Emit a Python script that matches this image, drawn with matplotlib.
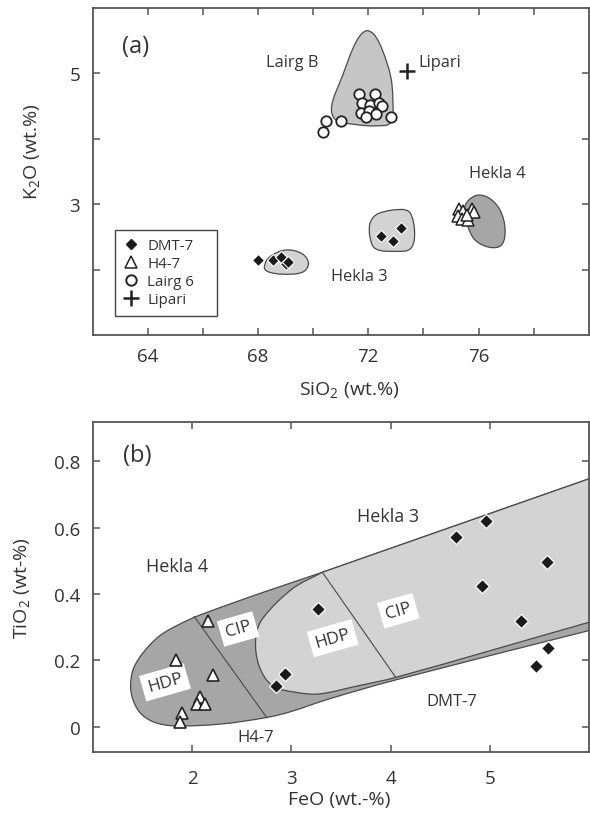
import numpy as np
import matplotlib
matplotlib.use("Agg")
import matplotlib.pyplot as plt
from matplotlib.path import Path
from matplotlib.patches import PathPatch
from matplotlib.lines import Line2D

plt.rcParams['font.family'] = ['Open Sans', 'DejaVu Sans']
plt.rcParams['mathtext.fontset'] = 'custom'
plt.rcParams['mathtext.rm'] = 'Open Sans'
plt.rcParams['mathtext.it'] = 'Open Sans:italic'
plt.rcParams['mathtext.bf'] = 'Open Sans:bold'

# ---------------- Panel (a) data: SiO2 vs K2O ----------------
dmt7_sio2 = [67.99, 68.53, 68.83, 69.01, 69.10, 72.47, 72.90, 73.17]
dmt7_k2o = [2.14, 2.15, 2.19, 2.09, 2.11, 2.51, 2.44, 2.64]

h47_sio2 = [75.30, 75.42, 75.25, 75.39, 75.61, 75.75, 75.84, 75.57]
h47_k2o = [2.93, 2.89, 2.82, 2.78, 2.76, 2.93, 2.88, 2.83]

lairg6_sio2 = [71.66, 72.26, 71.76, 72.08, 72.38, 72.50, 71.72, 72.02,
               72.28, 71.90, 72.81, 71.00, 70.48, 70.37]
lairg6_k2o = [4.68, 4.68, 4.55, 4.52, 4.55, 4.50, 4.39, 4.42,
              4.38, 4.33, 4.34, 4.27, 4.27, 4.10]

lipari_sio2 = [73.41]
lipari_k2o = [5.04]

# field outlines (a)
lairgB_x = [71.90, 71.54, 71.06, 70.67, 70.82, 71.54, 72.26, 72.81, 72.89, 72.81, 72.50, 72.20]
lairgB_y = [5.65, 5.47, 4.96, 4.50, 4.29, 4.22, 4.20, 4.25, 4.60, 4.96, 5.37, 5.60]

hekla3a_small_x = [68.23, 68.41, 69.01, 69.61, 69.83, 69.61, 68.89, 68.35]
hekla3a_small_y = [2.04, 2.19, 2.30, 2.24, 2.09, 1.96, 1.93, 1.97]

hekla3a_big_x = [72.08, 72.38, 73.23, 73.53, 73.68, 73.53, 72.99, 72.26, 72.06]
hekla3a_big_y = [2.73, 2.86, 2.92, 2.86, 2.55, 2.32, 2.28, 2.32, 2.50]

hekla4a_x = [75.88, 76.36, 76.78, 76.96, 76.84, 76.42, 75.88, 75.60, 75.50]
hekla4a_y = [3.13, 3.10, 2.91, 2.62, 2.38, 2.34, 2.45, 2.68, 2.96]

# ---------------- Panel (b) data: FeO vs TiO2 ----------------
dmt7_feo = [4.96, 4.657, 5.575, 4.92, 5.313, 5.589, 5.464, 3.271, 2.932, 2.841]
dmt7_tio2 = [0.620, 0.572, 0.496, 0.424, 0.319, 0.237, 0.182, 0.355, 0.159, 0.124]

h47_feo = [2.160, 1.835, 2.211, 2.077, 2.043, 2.127, 1.892, 1.875]
h47_tio2 = [0.320, 0.201, 0.156, 0.089, 0.068, 0.068, 0.043, 0.013]

# Hekla 4 field (dark) outline
hekla4b_x = [1.377, 1.404, 1.505, 1.673, 1.875, 2.077, 2.700, 3.312, 6.5, 6.5,
             6.0, 4.06, 3.39, 2.985, 2.750, 2.279, 1.807, 1.605, 1.471, 1.398]
hekla4b_y = [0.124, 0.174, 0.224, 0.275, 0.310, 0.337, 0.404, 0.466, 0.800, 0.328,
             0.290, 0.142, 0.085, 0.045, 0.028, 0.008, 0.003, 0.015, 0.043, 0.084]
hekla4b_straight = [7, 8]
hekla4b_corners = [8, 9]

# Hekla 3 field (light) outline
hekla3b_x = [3.312, 6.5, 6.5, 6.0, 4.052, 3.648, 3.278, 3.043, 2.807, 2.673, 2.639, 2.706, 3.009]
hekla3b_y = [0.466, 0.800, 0.357, 0.315, 0.149, 0.122, 0.099, 0.104, 0.124, 0.184, 0.265, 0.325, 0.416]
hekla3b_straight = [0, 1]
hekla3b_corners = [0, 1, 2]

div_h4_x = [2.020, 2.750]
div_h4_y = [0.332, 0.028]
div_h3_x = [3.312, 4.052]
div_h3_y = [0.466, 0.149]

box_labels = ['HDP', 'CIP', 'HDP', 'CIP']
box_x = [1.724, 2.463, 3.416, 4.078]
box_y = [0.134, 0.295, 0.267, 0.350]

DARK = '#a6a6a6'
LIGHT = '#d3d3d3'
MID = '#c6c6c6'
EDGE = '#4a4a4a'
SPINE = '#555555'
TC = '#333333'


def smooth_path(xs, ys, k=1.0, straight=(), corners=()):
    P = np.column_stack([np.asarray(xs, float), np.asarray(ys, float) * k])
    n = len(P)
    straight = set(straight)
    corners = set(corners)

    def unit(v):
        d = np.hypot(v[0], v[1])
        return v / d if d > 0 else v

    verts = [P[0]]
    codes = [Path.MOVETO]
    for i in range(n):
        a = P[i]
        j = (i + 1) % n
        b = P[j]
        if i in straight:
            verts.append(b)
            codes.append(Path.LINETO)
            continue
        L = np.hypot(*(b - a))
        ta = unit(b - a) if i in corners else unit(P[j] - P[i - 1])
        tb = unit(b - a) if j in corners else unit(P[(j + 1) % n] - P[i])
        c1 = a + ta * L / 3.0
        c2 = b - tb * L / 3.0
        verts.extend([c1, c2, b])
        codes.extend([Path.CURVE4] * 3)
    verts.append(P[0])
    codes.append(Path.CLOSEPOLY)
    V = np.array(verts)
    V[:, 1] /= k
    return Path(V, codes)


def field(ax, xs, ys, color, k, straight=(), corners=(), z=1):
    p = PathPatch(smooth_path(xs, ys, k, straight, corners), facecolor=color,
                  edgecolor=EDGE, lw=0.9, zorder=z)
    ax.add_patch(p)


def style_axes(ax, xpad, ypad):
    for s in ax.spines.values():
        s.set_color(SPINE)
        s.set_linewidth(1.3)
    ax.tick_params(direction='in', length=5, width=1.1, color=SPINE,
                   top=True, right=True, labelsize=13.5, labelcolor=TC)
    ax.tick_params(axis='x', pad=xpad)
    ax.tick_params(axis='y', pad=ypad)


fig = plt.figure(figsize=(5.9, 8.29), dpi=100)

# ---------------- Panel (a) ----------------
axA = fig.add_axes([0.157, 0.5947, 0.841, 0.3943])
axA.set_xlim(62, 80)
axA.set_ylim(1, 6)
kA = 2.35

field(axA, lairgB_x, lairgB_y, MID, kA)
field(axA, hekla3a_small_x, hekla3a_small_y, LIGHT, kA)
field(axA, hekla3a_big_x, hekla3a_big_y, LIGHT, kA)
field(axA, hekla4a_x, hekla4a_y, DARK, kA)

axA.plot(dmt7_sio2, dmt7_k2o, ls='none', marker='D', ms=6.5, mfc='#1a1a1a',
         mec='white', mew=0.8, zorder=4)
axA.plot(h47_sio2, h47_k2o, ls='none', marker='^', ms=8, mfc='white',
         mec='#222222', mew=1.1, zorder=4)
axA.plot(lairg6_sio2, lairg6_k2o, ls='none', marker='o', ms=7.5, mfc='white',
         mec='#222222', mew=1.3, zorder=4)
axA.plot(lipari_sio2, lipari_k2o, ls='none', marker='+', ms=11, mec='#222222',
         mew=1.8, zorder=4)

axA.set_xticks([64, 66, 68, 70, 72, 74, 76, 78])
axA.set_xticklabels(['64', '', '68', '', '72', '', '76', ''])
axA.set_yticks([2, 3, 4, 5])
axA.set_yticklabels(['', '3', '', '5'])
style_axes(axA, 9, 9)

axA.text(0.059, 0.884, '(a)', transform=axA.transAxes, fontsize=17,
         ha='left', va='center', color=TC)
axA.text(69.24, 5.17, 'Lairg B', fontsize=11.8, ha='center', va='center', color=TC)
axA.text(73.83, 5.17, 'Lipari', fontsize=11.8, ha='left', va='center', color=TC)
axA.text(76.68, 3.48, 'Hekla 4', fontsize=11.8, ha='center', va='center', color=TC)
axA.text(71.66, 1.91, 'Hekla 3', fontsize=11.8, ha='center', va='center', color=TC)

axA.text(0.517, -0.165, r'SiO$_2$ (wt.%)', transform=axA.transAxes,
         fontsize=14, ha='center', va='center', color=TC)
axA.text(-0.122, 0.563, r'K$_2$O (wt.%)', transform=axA.transAxes,
         fontsize=14, ha='center', va='center', rotation=90, color=TC)

handles = [
    Line2D([], [], ls='none', marker='D', ms=5, mfc='#1a1a1a', mec='#1a1a1a'),
    Line2D([], [], ls='none', marker='^', ms=8, mfc='white', mec='#222222', mew=1.1),
    Line2D([], [], ls='none', marker='o', ms=7.5, mfc='white', mec='#222222', mew=1.4),
    Line2D([], [], ls='none', marker='+', ms=11, mec='#222222', mew=1.8),
]
leg = axA.legend(handles, ['DMT-7', 'H4-7', 'Lairg 6', 'Lipari'],
                 loc='lower left', bbox_to_anchor=(0.045, 0.059, 0.2057, 0.265),
                 mode='expand', borderaxespad=0, fancybox=False, framealpha=1,
                 edgecolor='#444444', fontsize=10.8, handlelength=1.0,
                 handletextpad=0.6, labelspacing=0.2, borderpad=0.55)
leg.get_frame().set_linewidth(1.0)
for t in leg.get_texts():
    t.set_color(TC)

# ---------------- Panel (b) ----------------
axB = fig.add_axes([0.158, 0.0917, 0.840, 0.3984])
axB.set_xlim(1, 6)
axB.set_ylim(-0.076, 0.92)
kB = 3.345

field(axB, hekla4b_x, hekla4b_y, DARK, kB, hekla4b_straight, hekla4b_corners, z=1)
field(axB, hekla3b_x, hekla3b_y, LIGHT, kB, hekla3b_straight, hekla3b_corners, z=2)
axB.plot(div_h4_x, div_h4_y, color=EDGE, lw=0.8, zorder=3)
axB.plot(div_h3_x, div_h3_y, color=EDGE, lw=0.8, zorder=3)

for lab, x, y in zip(box_labels, box_x, box_y):
    axB.text(x, y, lab, fontsize=12.5, ha='center', va='center', rotation=16,
             rotation_mode='anchor', color=TC, zorder=4,
             bbox=dict(boxstyle='square,pad=0.3', fc='white', ec='none'))

axB.plot(dmt7_feo, dmt7_tio2, ls='none', marker='D', ms=7, mfc='#1a1a1a',
         mec='white', mew=0.9, zorder=5)
axB.plot(h47_feo, h47_tio2, ls='none', marker='^', ms=8.5, mfc='white',
         mec='#222222', mew=1.2, zorder=5)

axB.set_xticks([2, 3, 4, 5])
axB.set_xticklabels(['2', '3', '4', '5'])
axB.set_yticks([0, 0.2, 0.4, 0.6, 0.8])
axB.set_yticklabels(['0', '0.2', '0.4', '0.6', '0.8'])
style_axes(axB, 12, 9)

axB.text(0.060, 0.899, '(b)', transform=axB.transAxes, fontsize=17,
         ha='left', va='center', color=TC)
axB.text(1.846, 0.484, 'Hekla 4', fontsize=13, ha='center', va='center', color=TC)
axB.text(3.975, 0.635, 'Hekla 3', fontsize=13, ha='center', va='center', color=TC)
axB.text(4.62, 0.078, 'DMT-7', fontsize=12, ha='center', va='center', color=TC)
axB.text(2.642, -0.031, 'H4-7', fontsize=12, ha='center', va='center', color=TC)

axB.text(0.497, -0.142, 'FeO (wt.-%)', transform=axB.transAxes,
         fontsize=14, ha='center', va='center', color=TC)
axB.text(-0.1435, 0.5, r'TiO$_2$ (wt-%)', transform=axB.transAxes,
         fontsize=14, ha='center', va='center', rotation=90, color=TC)

fig.savefig('out.png', dpi=100)
